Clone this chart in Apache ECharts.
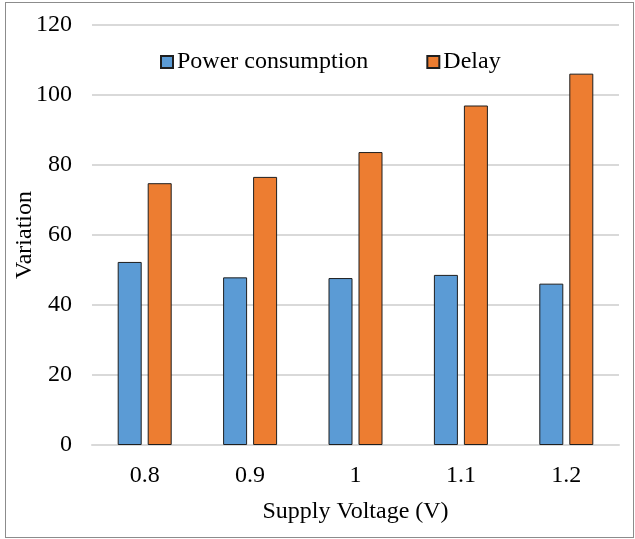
<!DOCTYPE html>
<html>
<head>
<meta charset="utf-8">
<script src="https://cdn.jsdelivr.net/npm/echarts@6/dist/echarts.min.js"></script>
<style>
  html, body { margin: 0; padding: 0; background: #fff; }
  .frame {
    position: absolute; left: 5px; top: 2px;
    width: 627px; height: 534px;
    border: 1px solid #8c8c8c;
  }
  #chart { position: absolute; left: 0; top: 0; width: 635px; height: 539px; }
</style>
</head>
<body>
<div class="frame"></div>
<div id="chart"></div>
<script>
  const voltages = ['0.8', '0.9', '1', '1.1', '1.2'];
  const powerConsumption = [52.3, 47.9, 47.7, 48.6, 46.1];
  const delay = [74.8, 76.6, 83.7, 97.0, 106.1];

  const font = 'Liberation Serif';
  let chart = echarts.init(document.getElementById('chart'));
  let option = {
    animation: false,
    textStyle: { fontFamily: font },
    grid: { left: 92, right: 16, top: 25, bottom: 94, outerBoundsMode: 'none' },
    legend: {
      left: 155,
      top: 45,
      itemWidth: 12,
      itemHeight: 12,
      itemGap: 58,
      icon: 'rect',
      textStyle: { fontFamily: font, fontSize: 24, color: '#000', padding: [0, 0, 0, -1] },
      data: ['Power consumption', 'Delay']
    },
    xAxis: {
      type: 'category',
      data: voltages,
      name: 'Supply Voltage (V)',
      nameLocation: 'middle',
      nameGap: 55,
      nameMoveOverlap: false,
      nameTextStyle: { fontFamily: font, fontSize: 24, color: '#000' },
      axisLine: { lineStyle: { color: '#d9d9d9', width: 2 } },
      axisTick: { show: false },
      axisLabel: { fontFamily: font, fontSize: 24, color: '#000', margin: 19 }
    },
    yAxis: {
      type: 'value',
      min: 0,
      max: 120,
      interval: 20,
      name: 'Variation',
      nameLocation: 'middle',
      nameGap: 55,
      nameMoveOverlap: false,
      nameTextStyle: { fontFamily: font, fontSize: 24, color: '#000' },
      axisLine: { show: false },
      axisTick: { show: false },
      axisLabel: { fontFamily: font, fontSize: 24, color: '#000', margin: 20 },
      splitLine: { lineStyle: { color: '#d9d9d9', width: 2 } }
    },
    series: [
      {
        name: 'Power consumption',
        type: 'bar',
        data: powerConsumption,
        barWidth: 24,
        barGap: '25%',
        itemStyle: { color: '#5b9bd5', borderColor: '#1f1f1f', borderWidth: 1 }
      },
      {
        name: 'Delay',
        type: 'bar',
        data: delay,
        barWidth: 24,
        barGap: '25%',
        itemStyle: { color: '#ed7d31', borderColor: '#1f1f1f', borderWidth: 1 }
      }
    ]
  };
  chart.setOption(option);
</script>
</body>
</html>
